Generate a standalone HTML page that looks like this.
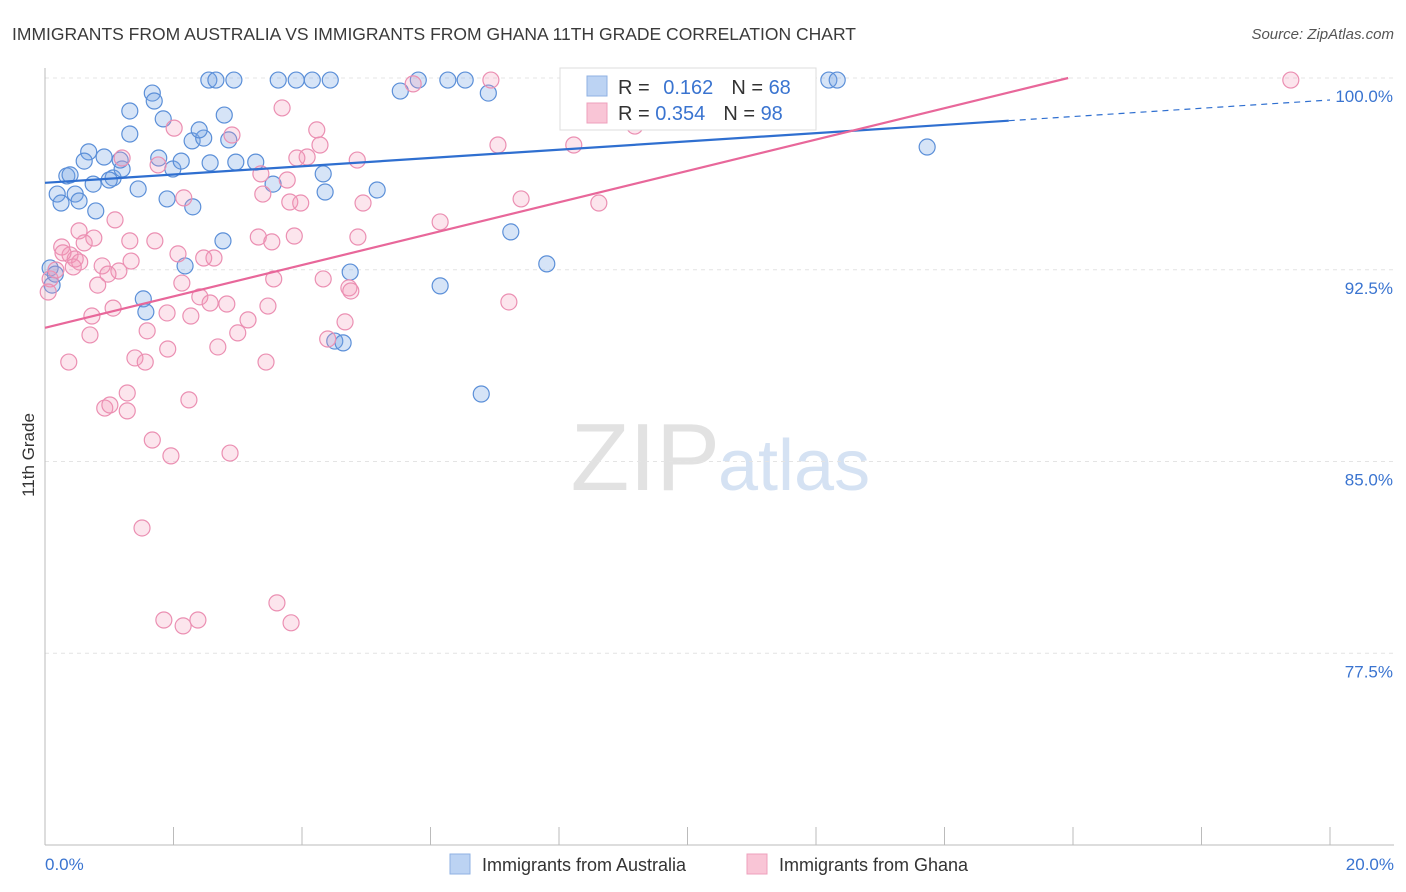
<!DOCTYPE html>
<html><head><meta charset="utf-8"><style>
body{margin:0;background:#fff;font-family:"Liberation Sans",sans-serif;}
#wrap{position:relative;width:1406px;height:892px;overflow:hidden;}
svg text{font-family:"Liberation Sans",sans-serif;}
</style></head><body>
<div id="wrap">
<svg id="chart" width="1406" height="892">
<text x="12" y="40" font-size="17.5" fill="#3a3a3a">IMMIGRANTS FROM AUSTRALIA VS IMMIGRANTS FROM GHANA 11TH GRADE CORRELATION CHART</text>
<text x="1394" y="39" font-size="15" fill="#555" font-style="italic" text-anchor="end">Source: ZipAtlas.com</text>
<text x="720" y="490" font-size="96" fill="#e2e2e2" text-anchor="end" font-family="Liberation Serif">ZIP</text>
<text x="718" y="490" font-size="72" fill="#d5e2f3">atlas</text>
<text transform="translate(34,455) rotate(-90)" font-size="17" fill="#333" text-anchor="middle">11th Grade</text>
<g id="grid"></g><g id="pts"></g><g id="lines"></g>
<g>
<rect x="560" y="68" width="256" height="62" fill="#fff" stroke="#ddd"/>
<rect x="587" y="76" width="20" height="20" fill="#bcd3f3" stroke="#8fb1e3"/>
<rect x="587" y="103" width="20" height="20" fill="#f9c5d6" stroke="#eea0bc"/>
<text x="618" y="94" font-size="20" fill="#333">R = <tspan fill="#3a74d0" dx="8">0.162</tspan><tspan fill="#333" dx="18">N = </tspan><tspan fill="#3a74d0">68</tspan></text>
<text x="618" y="120" font-size="20" fill="#333">R = <tspan fill="#3a74d0">0.354</tspan><tspan fill="#333" dx="18">N = </tspan><tspan fill="#3a74d0">98</tspan></text>
</g>
<g>
<rect x="450" y="854" width="20" height="20" fill="#bcd3f3" stroke="#8fb1e3"/>
<text x="482" y="871" font-size="18" fill="#333">Immigrants from Australia</text>
<rect x="747" y="854" width="20" height="20" fill="#f9c5d6" stroke="#eea0bc"/>
<text x="779" y="871" font-size="18" fill="#333">Immigrants from Ghana</text>
</g>
</svg>
</div>
<script>
const xTicks=[0,2,4,6,8,10,12,14,16,18,20];
const yTicks=[77.5,85,92.5,100];
const yTickLabels=["77.5%","85.0%","92.5%","100.0%"];
const xEndLabels=["0.0%","20.0%"];
const ausX=[1.67,1.70,1.32,1.84,1.32,0.68,0.92,0.61,0.34,0.39,1.06,1.20,1.17,1.77,1.99,2.12,2.29,2.47,2.40,2.86,2.79,2.55,2.66,2.94,3.63,3.91,4.16,4.44,5.53,5.81,6.27,6.54,6.90,12.20,12.33,2.57,2.97,3.28,3.55,4.33,4.36,5.17,1.00,0.75,0.47,0.19,0.25,0.53,0.79,1.45,1.90,2.30,2.77,2.18,1.53,1.57,4.75,4.51,4.64,6.15,7.25,7.81,6.79,13.73,0.08,0.11,0.16];
const ausY=[99.41,99.10,98.71,98.40,97.81,97.11,96.91,96.75,96.17,96.21,96.09,96.44,96.79,96.87,96.44,96.75,97.54,97.65,97.97,97.58,98.55,99.92,99.92,99.92,99.92,99.92,99.92,99.92,99.49,99.92,99.92,99.92,99.41,99.92,99.92,96.68,96.71,96.71,95.85,96.25,95.54,95.62,96.01,95.85,95.46,95.46,95.11,95.19,94.80,95.66,95.27,94.96,93.63,92.65,91.36,90.85,92.41,89.71,89.64,91.87,93.98,92.73,87.64,97.30,92.57,91.90,92.33];
const ghaX=[6.94,5.73,19.39,9.18,2.01,2.91,3.69,4.23,4.28,4.08,3.92,4.86,7.05,8.23,1.20,1.76,3.36,3.77,3.39,3.81,3.98,4.95,7.41,8.62,1.09,2.16,0.53,0.76,0.61,0.26,1.32,1.71,3.32,3.88,3.53,4.87,6.15,0.39,0.47,0.54,0.89,1.15,1.34,2.07,2.47,2.63,0.44,0.82,2.13,3.56,4.33,4.73,4.76,2.41,2.57,2.83,3.47,0.73,1.06,1.90,2.27,3.16,4.67,0.70,1.59,3.00,4.40,2.69,1.40,1.56,1.91,3.44,0.37,1.28,0.93,1.01,1.28,2.24,1.67,1.96,2.88,1.51,3.61,3.83,1.85,2.15,2.38,7.22,0.08,0.17,0.28,0.05,0.98];
const ghaY=[99.92,99.77,99.92,98.12,98.04,97.77,98.83,97.97,97.38,96.91,96.87,96.79,97.38,97.38,96.87,96.60,96.25,96.01,95.46,95.15,95.11,95.11,95.27,95.11,94.45,95.31,94.02,93.74,93.55,93.39,93.63,93.63,93.78,93.82,93.59,93.78,94.37,93.08,92.92,92.80,92.65,92.45,92.84,93.12,92.96,92.96,92.61,91.90,91.98,92.14,92.14,91.79,91.67,91.44,91.20,91.16,91.08,90.69,91.00,90.81,90.69,90.54,90.46,89.95,90.11,90.03,89.79,89.48,89.05,88.89,89.40,88.89,88.89,87.68,87.09,87.21,86.98,87.41,85.84,85.22,85.33,82.40,79.47,78.69,78.80,78.57,78.80,91.24,92.14,92.49,93.16,91.63,92.33];
const ausTrend=[95.9,99.14];
const ghaTrend=[90.23,102.5];
const X0=45,X1=1330,Y0=845,Y1=78;
const sx=v=>X0+(v-0)/20*(X1-X0);
const sy=v=>Y0-(v-70)/30*(Y0-Y1);
const NS="http://www.w3.org/2000/svg";
function mk(t,a,p){const e=document.createElementNS(NS,t);for(const k in a)e.setAttribute(k,a[k]);p.appendChild(e);return e;}
const grid=document.getElementById('grid');
yTicks.forEach((t,i)=>{
 const l=mk('line',{x1:X0,x2:1394,y1:sy(t),y2:sy(t),stroke:'#e4e4e4','stroke-dasharray':'4,4'},grid);
 
 
 const tx=mk('text',{x:1393,y:sy(t)+24,'font-size':17,fill:'#3a74d0','text-anchor':'end'},grid);
 tx.textContent=yTickLabels[i];
 
 
});
const ax=mk('line',{x1:X0,x2:X0,y1:68,y2:Y0,stroke:'#bbb'},grid);


const bx=mk('line',{x1:X0,x2:1394,y1:Y0,y2:Y0,stroke:'#bbb'},grid);


xTicks.forEach(t=>{
 const l=mk('line',{x1:sx(t),x2:sx(t),y1:Y0-18,y2:Y0,stroke:'#bbb'},grid);
 
 
});
[[0,'start',45],[20,'end',1394]].forEach((d,i)=>{
 const tx=mk('text',{x:d[2],y:870,'font-size':17,fill:'#3a74d0','text-anchor':d[1]},grid);
 tx.textContent=xEndLabels[i];
 
 
});
const pts=document.getElementById('pts');
ausX.forEach((x,i)=>{
 const c=mk('circle',{cx:sx(x),cy:sy(ausY[i]),r:8,fill:'rgba(120,165,230,0.3)',stroke:'#5b8fd8','stroke-width':1.2},pts);
 
 
});
ghaX.forEach((x,i)=>{
 const c=mk('circle',{cx:sx(x),cy:sy(ghaY[i]),r:8,fill:'rgba(245,150,185,0.25)',stroke:'#eb8fb2','stroke-width':1.2},pts);
 
 
});
const lines=document.getElementById('lines');
const at=x=>ausTrend[0]+(ausTrend[1]-ausTrend[0])*x/20;
const l1=mk('line',{x1:sx(0),y1:sy(at(0)),x2:sx(15),y2:sy(at(15)),stroke:'#2f6fd0','stroke-width':2.2},lines);


const l2=mk('line',{x1:sx(15),y1:sy(at(15)),x2:sx(20),y2:sy(at(20)),stroke:'#2f6fd0','stroke-width':1.2,'stroke-dasharray':'6,5'},lines);


const gt=x=>ghaTrend[0]+(ghaTrend[1]-ghaTrend[0])*x/20;
const xEnd=(100-ghaTrend[0])/(ghaTrend[1]-ghaTrend[0])*20;
const l3=mk('line',{x1:sx(0),y1:sy(gt(0)),x2:sx(xEnd),y2:sy(100),stroke:'#e8679a','stroke-width':2.2},lines);


</script>
</body></html>
